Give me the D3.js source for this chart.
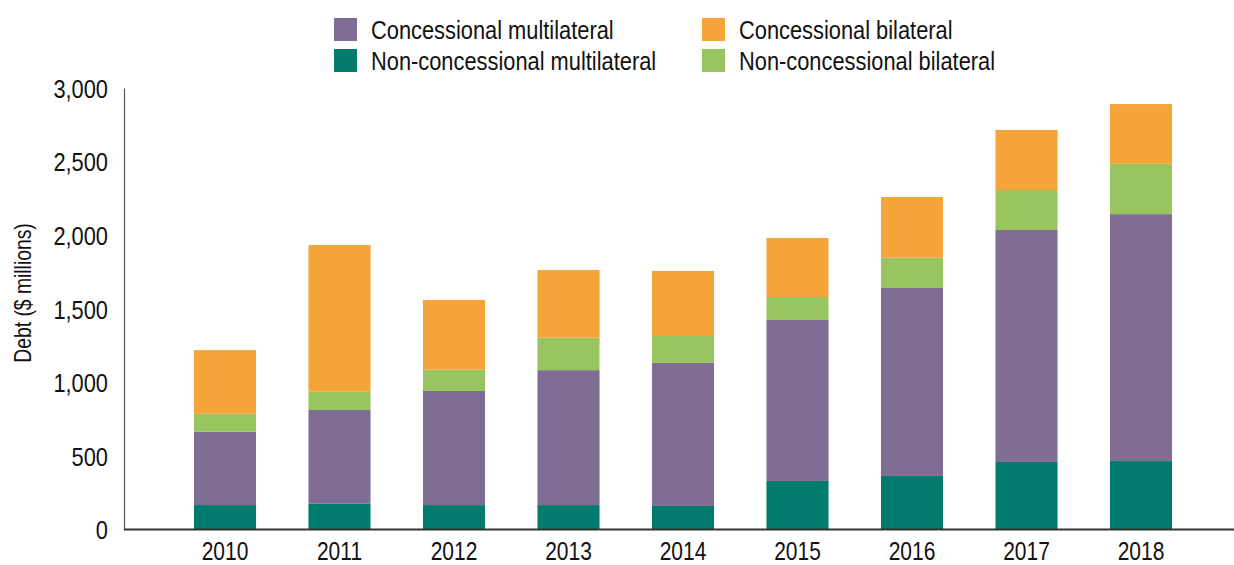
<!DOCTYPE html>
<html>
<head>
<meta charset="utf-8">
<script src="https://cdn.jsdelivr.net/npm/d3@7/dist/d3.min.js"></script>
<style>
  body { margin: 0; background: #fff; }
  text { font-family: "Liberation Sans", Arial, sans-serif; fill: #111; }
</style>
</head>
<body>
<div id="plot"></div>
<script>
var years = ["2010", "2011", "2012", "2013", "2014", "2015", "2016", "2017", "2018"];

// values in $ millions
var nonConcMulti = [166, 175, 166, 166, 160, 330, 364, 459, 465];
var concMulti    = [498, 637, 775, 917, 972, 1094, 1277, 1576, 1678];
var nonConcBi    = [122, 124, 145, 220, 183, 156, 206, 272, 342];
var concBi       = [433, 997, 474, 460, 442, 401, 412, 408, 406];

var yTicks = [0, 500, 1000, 1500, 2000, 2500, 3000];

var seriesKeys = ["nonConcMulti", "concMulti", "nonConcBi", "concBi"];
var seriesNames = {
	concMulti: "Concessional multilateral",
	concBi: "Concessional bilateral",
	nonConcMulti: "Non-concessional multilateral",
	nonConcBi: "Non-concessional bilateral"
};
var colors = {
	concMulti: "#7f6d94",
	concBi: "#f5a43a",
	nonConcMulti: "#007b6d",
	nonConcBi: "#98c560"
};

var w = 1234;
var h = 565;
var plotLeft = 124;
var plotBottom = 529.5;
var plotTop = 88;
var squeeze = 0.84; // fake a condensed face

var dataset = years.map(function(y, i) {
	return {
		year: y,
		nonConcMulti: nonConcMulti[i],
		concMulti: concMulti[i],
		nonConcBi: nonConcBi[i],
		concBi: concBi[i]
	};
});

var series = d3.stack().keys(seriesKeys)(dataset);

var xScale = d3.scaleBand()
	.domain(years)
	.range([167.75, 1198.25])
	.paddingInner(0.458)
	.paddingOuter(0.229);

var yScale = d3.scaleLinear()
	.domain([0, 3000])
	.range([plotBottom, plotTop]);

var svg = d3.select("#plot").append("svg").attr("width", w).attr("height", h);

// bars
svg.selectAll("g.layer")
	.data(series)
	.enter()
	.append("g")
	.attr("class", "layer")
	.attr("fill", function(d) { return colors[d.key]; })
	.selectAll("rect")
	.data(function(d) { return d; })
	.enter()
	.append("rect")
	.attr("x", function(d) { return xScale(d.data.year); })
	.attr("y", function(d) { return yScale(d[1]); })
	.attr("width", xScale.bandwidth())
	.attr("height", function(d) { return yScale(d[0]) - yScale(d[1]); });

// y axis
var yAxis = d3.axisLeft(yScale)
	.tickValues(yTicks)
	.tickSize(0)
	.tickPadding(16 / squeeze)
	.tickFormat(d3.format(","));

var gy = svg.append("g")
	.attr("transform", "translate(" + plotLeft + ",0)")
	.call(yAxis);
gy.attr("font-family", null).attr("font-size", null);
gy.select(".domain").attr("stroke", "#555").attr("stroke-width", 1.2);
gy.selectAll("text")
	.attr("font-size", 26)
	.attr("dy", "0.36em")
	.attr("transform", "scale(" + squeeze + ",1)");

// x axis
var xAxis = d3.axisBottom(xScale).tickSize(0).tickPadding(13);
var gx = svg.append("g")
	.attr("transform", "translate(0," + plotBottom + ")")
	.call(xAxis);
gx.attr("font-family", null).attr("font-size", null);
gx.select(".domain").remove();
gx.selectAll("text")
	.attr("font-size", 25)
	.attr("transform", "scale(" + squeeze + ",1)");

svg.append("line")
	.attr("x1", plotLeft)
	.attr("x2", w)
	.attr("y1", plotBottom)
	.attr("y2", plotBottom)
	.attr("stroke", "#333")
	.attr("stroke-width", 2);

// y title
svg.append("text")
	.attr("transform", "translate(31,293) rotate(-90) scale(" + squeeze + ",1)")
	.attr("text-anchor", "middle")
	.attr("font-size", 23)
	.text("Debt ($ millions)");

// legend
var legendItems = [
	{ key: "concMulti", x: 334, y: 18 },
	{ key: "concBi", x: 702, y: 18 },
	{ key: "nonConcMulti", x: 334, y: 49 },
	{ key: "nonConcBi", x: 702, y: 49 }
];
var leg = svg.selectAll("g.legend")
	.data(legendItems)
	.enter()
	.append("g")
	.attr("class", "legend")
	.attr("transform", function(d) { return "translate(" + d.x + "," + d.y + ")"; });
leg.append("rect")
	.attr("width", 23)
	.attr("height", 23)
	.attr("fill", function(d) { return colors[d.key]; });
leg.append("text")
	.attr("transform", "translate(37,12) scale(" + squeeze + ",1)")
	.attr("dy", "0.36em")
	.attr("font-size", 26)
	.text(function(d) { return seriesNames[d.key]; });
</script>
</body>
</html>
